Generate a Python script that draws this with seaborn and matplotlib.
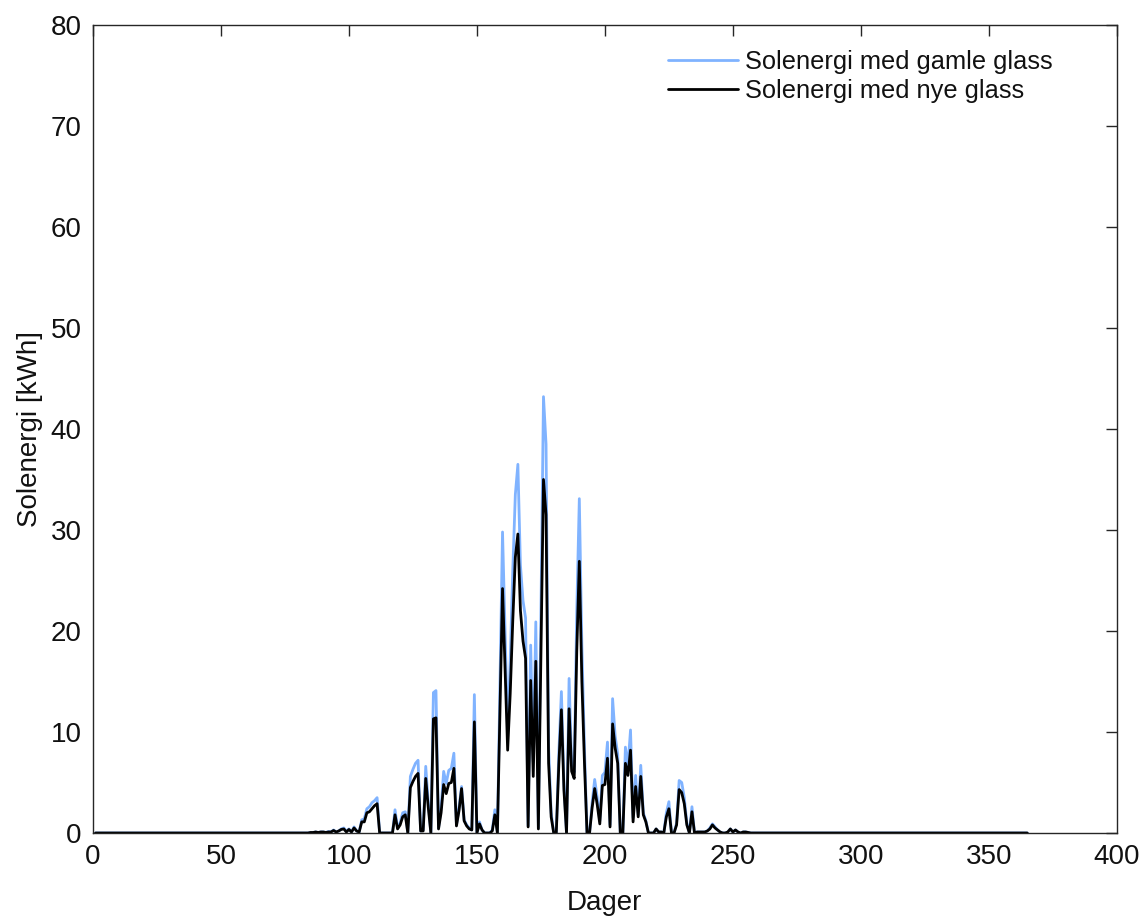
import numpy as np
import pandas as pd
import matplotlib
matplotlib.use("Agg")
import matplotlib.pyplot as plt
import seaborn as sns

# ---- data ----
first_day = 1
last_day = 365
active_start = 85  # first day of the listed segment; days outside are 0

gamle_segment = [
    0.05, 0.05, 0.1, 0.05, 0.1, 0.1, 0.05, 0.15, 0.1, 0.3,      # 85-94
    0.1, 0.2, 0.4, 0.5, 0.15, 0.4, 0.1, 0.6, 0.2, 0.1,          # 95-104
    1.3, 1.4, 2.4, 2.6, 3.0, 3.2, 3.5, 0, 0, 0,                 # 105-114
    0, 0, 0, 2.3, 0.5, 1.0, 2.0, 2.1, 0, 5.6,                   # 115-124
    6.3, 6.9, 7.2, 0.2, 0.3, 6.6, 3.0, 0, 13.9, 14.1,           # 125-134
    0.5, 2.5, 6.1, 4.9, 6.2, 6.4, 7.9, 0.8, 2.5, 4.6,           # 135-144
    1.3, 0.8, 0.5, 0.3, 13.7, 0, 1.1, 0.3, 0, 0,                # 145-154
    0, 0.3, 2.3, 0, 15.0, 29.8, 20.0, 10.0, 17.0, 26.0,         # 155-164
    33.5, 36.5, 26.5, 23.0, 21.3, 0.7, 18.6, 7.0, 20.9, 0.5,    # 165-174
    22.0, 43.2, 38.5, 8.5, 2.0, 0, 0, 8.0, 14.0, 4.8,           # 175-184
    0, 15.3, 6.9, 6.0, 22.0, 33.1, 18.5, 8.5, 0, 0,             # 185-194
    3.0, 5.3, 3.5, 1.2, 5.7, 6.0, 9.0, 0.8, 13.3, 9.6,          # 195-204
    7.8, 0, 0, 8.5, 6.6, 10.2, 1.5, 5.7, 1.8, 6.7,              # 205-214
    2.0, 1.2, 0, 0, 0, 0.4, 0.1, 0.1, 0, 2.0,                   # 215-224
    3.1, 0, 0, 1.0, 5.2, 5.0, 3.5, 1.0, 0, 2.6,                 # 225-234
    0, 0.1, 0.1, 0.1, 0.1, 0.2, 0.5, 0.9, 0.6, 0.3,             # 235-244
    0.1, 0, 0, 0.1, 0.4, 0.1, 0.3, 0.1, 0, 0.1,                 # 245-254
    0.1, 0.05,                                                  # 255-256
]

nye_segment = [
    0.05, 0.05, 0.1, 0.05, 0.1, 0.1, 0.05, 0.1, 0.1, 0.25,      # 85-94
    0.1, 0.2, 0.35, 0.4, 0.1, 0.35, 0.1, 0.5, 0.2, 0.1,         # 95-104
    1.1, 1.1, 2.0, 2.1, 2.4, 2.7, 2.9, 0, 0, 0,                 # 105-114
    0, 0, 0, 1.8, 0.4, 0.8, 1.6, 1.8, 0, 4.5,                   # 115-124
    5.1, 5.6, 5.9, 0.2, 0.2, 5.4, 2.5, 0, 11.3, 11.4,           # 125-134
    0.4, 2.0, 4.8, 3.9, 4.9, 5.0, 6.4, 0.7, 2.2, 4.4,           # 135-144
    1.2, 0.7, 0.4, 0.3, 11.0, 0, 0.9, 0.3, 0, 0,                # 145-154
    0, 0.2, 1.8, 0, 12.2, 24.2, 16.2, 8.2, 13.8, 21.0,          # 155-164
    27.3, 29.6, 22.0, 19.0, 17.3, 0.6, 15.1, 5.6, 17.0, 0.4,    # 165-174
    18.0, 35.0, 31.5, 6.9, 1.6, 0, 0, 6.8, 12.2, 4.2,           # 175-184
    0, 12.3, 6.1, 5.4, 18.0, 26.9, 15.0, 7.0, 0, 0,             # 185-194
    2.5, 4.4, 2.8, 0.9, 4.7, 4.8, 7.4, 0.6, 10.8, 8.4,          # 195-204
    6.9, 0, 0, 6.9, 5.7, 8.2, 1.1, 4.6, 1.6, 5.6,               # 205-214
    1.8, 1.1, 0, 0, 0, 0.4, 0.1, 0.1, 0, 1.6,                   # 215-224
    2.4, 0, 0, 0.8, 4.3, 4.0, 2.9, 0.8, 0, 2.1,                 # 225-234
    0, 0.1, 0.1, 0.1, 0.1, 0.2, 0.4, 0.8, 0.5, 0.3,             # 235-244
    0.1, 0, 0, 0.1, 0.4, 0.1, 0.3, 0.1, 0, 0.1,                 # 245-254
    0.1, 0.05,                                                  # 255-256
]

series_labels = ["Solenergi med gamle glass", "Solenergi med nye glass"]
x_ticks = [0, 50, 100, 150, 200, 250, 300, 350, 400]
y_ticks = [0, 10, 20, 30, 40, 50, 60, 70, 80]
x_label = "Dager"
y_label = "Solenergi [kWh]"

# ---- assemble full-year series (zeros outside the active segment) ----
days = np.arange(first_day, last_day + 1)

def full_year(segment):
    vals = np.zeros(len(days))
    i0 = active_start - first_day
    vals[i0:i0 + len(segment)] = segment
    return vals

df = pd.DataFrame({
    "Dag": np.concatenate([days, days]),
    "Energi": np.concatenate([full_year(gamle_segment), full_year(nye_segment)]),
    "Serie": [series_labels[0]] * len(days) + [series_labels[1]] * len(days),
})

# ---- styling ----
sns.set_style("white")
plt.rcParams["font.family"] = ["Liberation Sans", "DejaVu Sans"]
txt_color = "#111111"

fig = plt.figure(figsize=(11.42, 9.18), dpi=100)
ax = fig.add_axes([0.0814, 0.0926, 0.8966, 0.8802])

palette = {series_labels[0]: "#80B3FF", series_labels[1]: "#000000"}
sns.lineplot(data=df, x="Dag", y="Energi", hue="Serie", palette=palette,
             hue_order=series_labels, linewidth=2.0, ax=ax, legend=True)

ax.set_xlim(0, 400)
ax.set_ylim(0, 80)
ax.set_xticks(x_ticks)
ax.set_yticks(y_ticks)
ax.set_xlabel(x_label, fontsize=20, color=txt_color, labelpad=14)
ax.set_ylabel(y_label, fontsize=20, color=txt_color, labelpad=6)
ax.tick_params(axis="both", which="major", direction="in", length=8, width=1,
               labelsize=20, colors="#262626", labelcolor=txt_color,
               top=True, right=True, pad=8)
for s in ax.spines.values():
    s.set_visible(True)
    s.set_color("#262626")
    s.set_linewidth(1.0)

leg = ax.legend(loc="upper left", bbox_to_anchor=(0.539, 0.997), frameon=False,
                fontsize=18.3, handlelength=2.75, handletextpad=0.3,
                labelspacing=0.2, borderpad=0.4)
for t in leg.get_texts():
    t.set_color(txt_color)
for line in leg.get_lines():
    line.set_linewidth(2.0)

fig.savefig("out.png", dpi=100)
